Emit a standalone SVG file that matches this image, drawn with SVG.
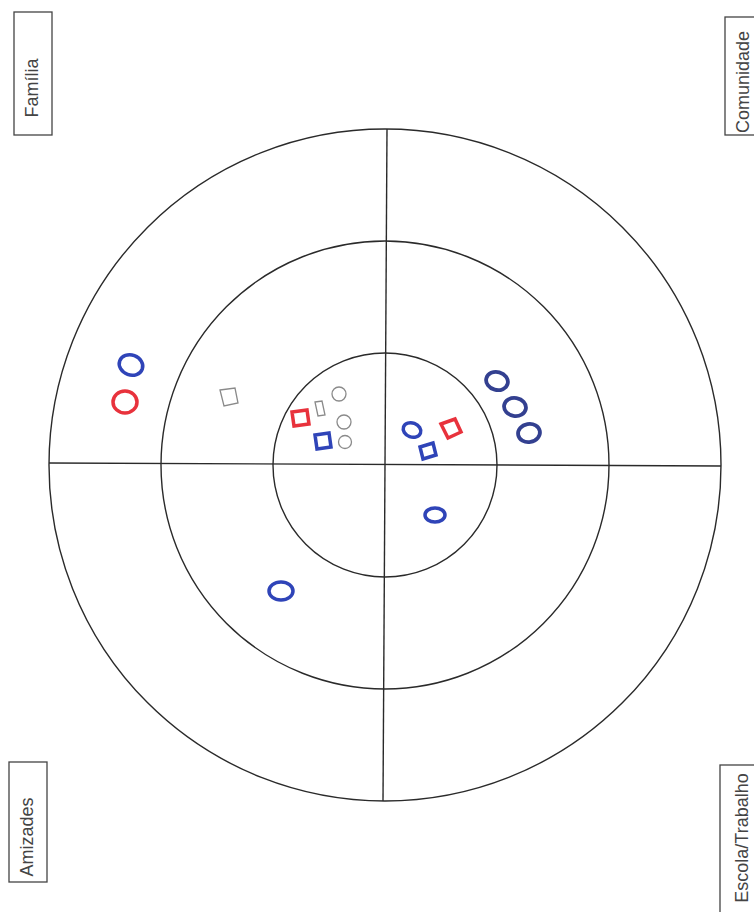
<svg xmlns="http://www.w3.org/2000/svg" width="754" height="912" viewBox="0 0 754 912">
<style>
.ring{fill:none;stroke:#2a2a2a;stroke-width:1.4}
.axis{stroke:#2a2a2a;stroke-width:1.4}
.box{fill:#fff;stroke:#444;stroke-width:1.3}
.lbl{font-family:"Liberation Sans",Arial,sans-serif;font-size:18px;fill:#444;text-anchor:middle}
.blue{fill:none;stroke:#2f44b8;stroke-width:3.5}
.dblue{fill:none;stroke:#334090;stroke-width:3.8}
.red{fill:none;stroke:#e8323c;stroke-width:3.5}
.grey{fill:none;stroke:#8a8a8a;stroke-width:1.3}
</style>
<rect width="754" height="912" fill="#fff"/>
<g id="rings">
<circle class="ring" cx="385" cy="465" r="336"/>
<circle class="ring" cx="385" cy="465" r="224"/>
<circle class="ring" cx="385" cy="465" r="112"/>
<line class="axis" x1="387" y1="129" x2="383" y2="801"/>
<line class="axis" x1="49" y1="463" x2="721" y2="466"/>
</g>
<g id="familia">
<rect class="box" x="14" y="12" width="38" height="123"/>
<text class="lbl" transform="translate(38,88) rotate(-90)">Família</text>
</g>
<g id="comunidade">
<rect class="box" x="725" y="17" width="40" height="118"/>
<text class="lbl" transform="translate(749,82) rotate(-90)">Comunidade</text>
</g>
<g id="amizades">
<rect class="box" x="9" y="762" width="38" height="120"/>
<text class="lbl" transform="translate(33,837) rotate(-90)">Amizades</text>
</g>
<g id="escola">
<rect class="box" x="720" y="765" width="45" height="160"/>
<text class="lbl" transform="translate(748,838) rotate(-90)">Escola/Trabalho</text>
</g>
<g id="marks">
<ellipse class="blue" cx="131" cy="365" rx="12" ry="10" transform="rotate(20 131 365)"/>
<ellipse class="red" cx="125" cy="402" rx="12" ry="11"/>
<path class="grey" d="M220 390 L235 388 L238 403 L224 406 Z"/>
<path class="red" d="M292 412 L307 410 L309 424 L294 426 Z"/>
<path class="grey" d="M315 402 L322 401 L325 415 L318 416 Z"/>
<circle class="grey" cx="339" cy="394" r="7"/>
<circle class="grey" cx="344" cy="422" r="7"/>
<circle class="grey" cx="345" cy="442" r="6.5"/>
<path class="blue" d="M315 435 L329 433 L331 447 L317 449 Z"/>
<ellipse class="blue" cx="412" cy="430" rx="9" ry="7" transform="rotate(20 412 430)"/>
<path class="red" d="M441 424 L455 419 L461 432 L448 438 Z"/>
<path class="blue" d="M420 447 L433 443 L436 455 L423 459 Z"/>
<ellipse class="dblue" cx="497" cy="381" rx="11" ry="9" transform="rotate(15 497 381)"/>
<ellipse class="dblue" cx="515" cy="407" rx="11" ry="9" transform="rotate(10 515 407)"/>
<ellipse class="dblue" cx="529" cy="433" rx="11" ry="9" transform="rotate(-10 529 433)"/>
<ellipse class="blue" cx="435" cy="515" rx="10" ry="7"/>
<ellipse class="blue" cx="281" cy="591" rx="12" ry="9"/>
</g>
</svg>
